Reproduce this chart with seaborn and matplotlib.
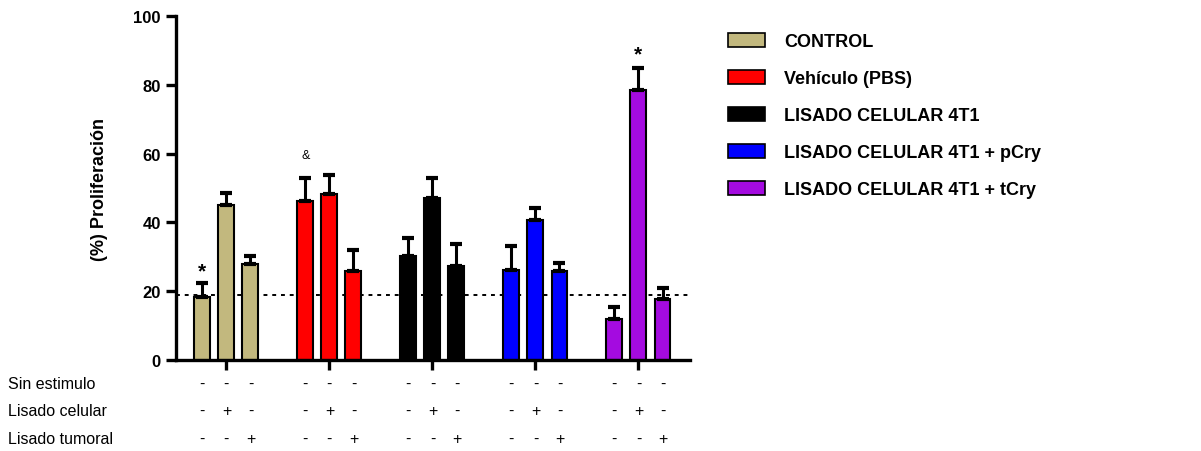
import numpy as np
import pandas as pd
import seaborn as sns
from matplotlib import pyplot as plt
from matplotlib.patches import Patch
from matplotlib import transforms

groups = ["CONTROL", "Vehículo (PBS)", "LISADO CELULAR 4T1",
          "LISADO CELULAR 4T1 + pCry", "LISADO CELULAR 4T1 + tCry"]
conditions = ["Sin estimulo", "Lisado celular", "Lisado tumoral"]
colors = ["#C2B87E", "#FF0000", "#000000", "#0000FF", "#A40BE0"]

# media y error (SEM) por grupo: [sin estimulo, lisado celular, lisado tumoral]
medias = [
    [18.3, 45.1, 27.9],
    [46.3, 48.3, 25.9],
    [30.1, 47.0, 27.2],
    [26.1, 40.8, 25.9],
    [12.0, 78.5, 17.7],
]
errores = [
    [4.1, 3.4, 2.3],
    [6.6, 5.5, 6.1],
    [5.3, 6.0, 6.6],
    [7.1, 3.3, 2.3],
    [3.4, 6.4, 3.2],
]
basal = 18.9

# tabla de +/- debajo del eje
signos = {
    "Sin estimulo": ["-", "-", "-"],
    "Lisado celular": ["-", "+", "-"],
    "Lisado tumoral": ["-", "-", "+"],
}

# anotaciones: (grupo, condicion, texto, altura)
anotaciones = [(0, 0, "*", 26.0), (1, 0, "&", 59.5), (4, 1, "*", 89.0)]

rows = []
for g, m in zip(groups, medias):
    for c, v in zip(conditions, m):
        rows.append({"grupo": g, "cond": c, "valor": v})
table = pd.DataFrame(rows)

sns.set_style("ticks")
plt.rcParams['font.family'] = ['Liberation Sans', 'DejaVu Sans']
plt.rcParams['text.color'] = 'black'
plt.rcParams['axes.labelcolor'] = 'black'
plt.rcParams['xtick.color'] = 'black'
plt.rcParams['ytick.color'] = 'black'

fig = plt.figure(figsize=(12.01, 4.52), dpi=100)
ax = fig.add_axes([0.1465, 0.2013, 0.428, 0.7611])

sns.barplot(data=table, x="grupo", y="valor", hue="cond", order=groups,
            hue_order=conditions, width=0.7, gap=0.335, errorbar=None,
            edgecolor="black", linewidth=1.5, legend=False, ax=ax)

barras = list(ax.containers)
for hi, cont in enumerate(barras):
    for gi, bar in enumerate(cont):
        bar.set_facecolor(colors[gi])
        xc = bar.get_x() + bar.get_width() / 2
        ax.errorbar(xc, bar.get_height(), yerr=[[0], [errores[gi][hi]]],
                    fmt="none", ecolor="black", elinewidth=2.2, capsize=4,
                    capthick=3, zorder=1)

ax.axhline(basal, color="black", ls=(0, (2, 2.5)), lw=1.4, zorder=0.5)

# anotaciones
for gi, ci, txt, y in anotaciones:
    bar = barras[ci][gi]
    xc = bar.get_x() + bar.get_width() / 2
    if txt == "*":
        ax.text(xc, y, txt, ha="center", va="center", fontsize=15, fontweight="bold")
    else:
        ax.text(xc, y, txt, ha="center", va="center", fontsize=9)

ax.set_ylim(0, 100)
ax.set_xlim(-0.49, 4.5)
ax.set_yticks([0, 20, 40, 60, 80, 100])
ax.set_xticks(range(5))
ax.set_xticklabels([])
ax.set_xlabel("")
ax.set_ylabel("(%) Proliferación", fontsize=13, fontweight="bold", labelpad=18)
for lab in ax.get_yticklabels():
    lab.set_fontweight("bold")
    lab.set_fontsize(12)
ax.tick_params(axis="both", width=2.4, length=7, color="black", pad=4)
sns.despine(ax=ax)
for s in ["left", "bottom"]:
    ax.spines[s].set_linewidth(2.4)
    ax.spines[s].set_color("black")

# tabla de condiciones
trans = transforms.blended_transform_factory(ax.transData, ax.transAxes)
trans_fig = transforms.blended_transform_factory(fig.transFigure, ax.transAxes)
fila_y = [-0.067, -0.147, -0.227]
for fy, cond in zip(fila_y, conditions):
    ax.text(8 / 1201, fy, cond, fontsize=11.5, va="center", ha="left",
            transform=trans_fig)
    for gi in range(5):
        for hi in range(3):
            bar = barras[hi][gi]
            xc = bar.get_x() + bar.get_width() / 2
            ax.text(xc, fy, signos[cond][hi], fontsize=11.5, ha="center",
                    va="center", transform=trans, clip_on=False)

handles = [Patch(facecolor=c, edgecolor="black", linewidth=1.2) for c in colors]
fig.legend(handles, groups, loc="upper left", bbox_to_anchor=(0.6, 0.94),
           frameon=False, prop={"weight": "bold", "size": 13},
           handlelength=2.05, handleheight=0.78, handletextpad=1.05,
           labelspacing=1.1, borderaxespad=0)

fig.savefig("out.png", dpi=100)
